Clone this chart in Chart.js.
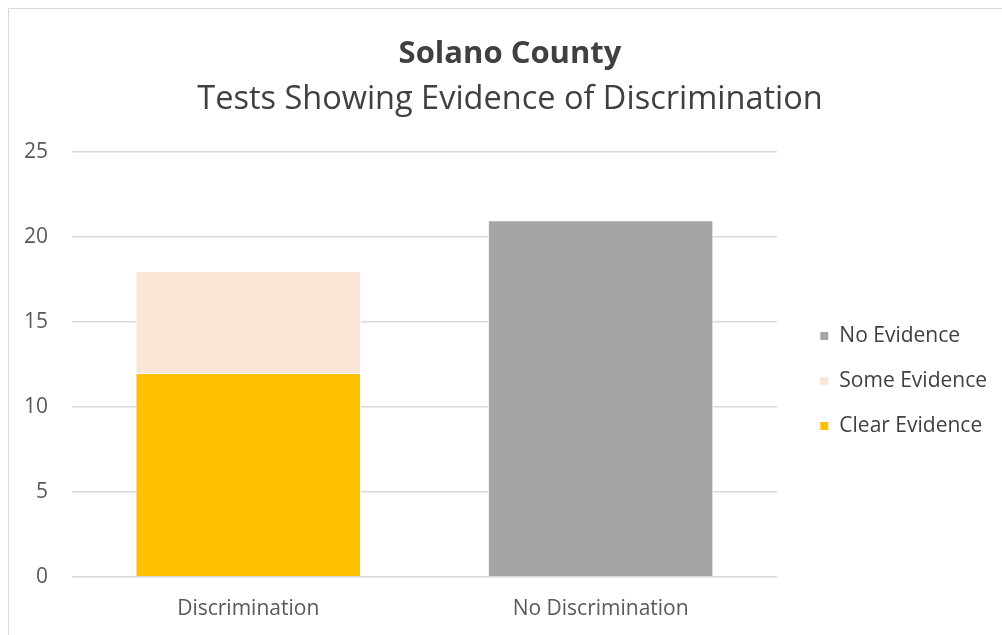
<!DOCTYPE html>
<html>
<head>
<meta charset="utf-8">
<script src="https://cdn.jsdelivr.net/npm/chart.js@4/dist/chart.umd.min.js"></script>
<style>
  html, body { margin: 0; padding: 0; background: #fff; }
  #wrap { position: relative; width: 1002px; height: 635px; }
</style>
</head>
<body>
<div id="wrap"><canvas id="chart"></canvas></div>
<script>
const categories = ["Discrimination", "No Discrimination"];
const clearEvidence = [12, null];
const someEvidence = [6, null];
const noEvidence = [null, 21];
const yTicks = [0, 5, 10, 15, 20, 25];

const FONT = "'Open Sans', sans-serif";

// light frame like the Excel chart area border
const framePlugin = {
  id: "frame",
  afterDraw(chart) {
    const ctx = chart.ctx;
    ctx.save();
    ctx.strokeStyle = "#D9D9D9";
    ctx.lineWidth = 1;
    ctx.beginPath();
    ctx.moveTo(8.5, chart.height);
    ctx.lineTo(8.5, 8.5);
    ctx.lineTo(chart.width, 8.5);
    ctx.stroke();
    ctx.restore();
  }
};

// nudge the legend and titles to where Excel puts them
const boxShift = {
  id: "boxShift",
  afterLayout(chart) {
    const lg = chart.legend;
    if (lg) {
      lg.left += 19; lg.right += 19;
      lg.top += 64; lg.bottom += 64;
    }
    chart.boxes.forEach(b => {
      if (b === lg || !b.options || typeof b.options.text !== "string") return;
      b.left += 21; b.right += 21;
    });
  }
};

const ctx = document.getElementById("chart").getContext("2d");
new Chart(ctx, {
  type: "bar",
  data: {
    labels: categories,
    datasets: [
      { label: "Clear Evidence", data: clearEvidence, backgroundColor: "#FFC000", borderColor: "#FFFFFF", borderWidth: 1 },
      { label: "Some Evidence", data: someEvidence, backgroundColor: "#FBE5D6", borderColor: "#FFFFFF", borderWidth: 1 },
      { label: "No Evidence", data: noEvidence, backgroundColor: "#A5A5A5", borderColor: "#FFFFFF", borderWidth: 1 }
    ]
  },
  options: {
    responsive: true,
    maintainAspectRatio: false,
    animation: false,
    layout: { padding: { left: 0, right: 24, top: 0, bottom: 1 } },
    datasets: { bar: { barPercentage: 0.64, categoryPercentage: 1 } },
    scales: {
      x: {
        stacked: true,
        grid: { display: false },
        border: { display: false },
        ticks: { color: "#595959", font: { family: FONT, size: 21 }, padding: 12 }
      },
      y: {
        stacked: true,
        min: 0,
        max: 25,
        afterBuildTicks(scale) { scale.ticks = yTicks.map(v => ({ value: v })); },
        grid: { color: "#D9D9D9", lineWidth: 1.5, drawTicks: false },
        border: { display: false },
        ticks: { color: "#595959", font: { family: FONT, size: 21 }, padding: 24 }
      }
    },
    plugins: {
      title: {
        display: true,
        text: "Solano County",
        color: "#404040",
        font: { family: FONT, size: 31, weight: "bold" },
        padding: { top: 36, bottom: 7 }
      },
      subtitle: {
        display: true,
        text: "Tests Showing Evidence of Discrimination",
        color: "#404040",
        font: { family: FONT, size: 32.5, weight: "normal" },
        padding: { top: 0, bottom: 33 }
      },
      legend: {
        position: "right",
        reverse: true,
        labels: {
          color: "#404040",
          font: { family: FONT, size: 21 },
          boxWidth: 9,
          boxHeight: 9,
          padding: 24
        }
      },
      tooltip: { enabled: false }
    }
  },
  plugins: [framePlugin, boxShift]
});
</script>
</body>
</html>
